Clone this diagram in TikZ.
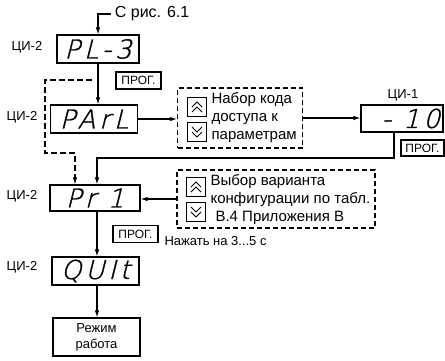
\documentclass[tikz,border=0pt]{standalone}
\usepackage{fontspec}
\setmainfont{Liberation Sans}
\newfontfamily\segfont{DejaVu Sans}[UprightFont=* ExtraLight, FakeSlant=0.25, FakeBold=1.2, LetterSpace=15]
\usetikzlibrary{calc, arrows.meta}

\begin{document}
\begin{tikzpicture}[x=1pt, y=-1pt, line width=1.1pt,
  arr/.style={-{Latex[length=7pt,width=4.5pt]}},
  disp/.style={draw, minimum width=87pt, minimum height=28pt, inner sep=0pt,
    font=\segfont\fontsize{26}{26}\selectfont},
  prog/.style={draw, minimum width=45pt, minimum height=17pt, inner sep=0pt,
    font=\fontsize{12}{12}\selectfont},
  lbl/.style={font=\fontsize{13}{13}\selectfont},
  note/.style={draw, dash pattern=on 5pt off 3pt, inner sep=0pt},
  keybox/.style={draw, line width=0.9pt, minimum size=19pt, inner sep=0pt},
  txt/.style={align=left, inner sep=0pt, font=\fontsize{15}{18}\selectfont}]
  \useasboundingbox (0,0) rectangle (445,360);
  % 左列 ЦИ-2
  \node[anchor=west, font=\fontsize{16}{16}\selectfont] (src) at (111,14) {С рис. 6.1};
  \node[disp, minimum width=82pt] (PL) at (98,49) {PL-3};
  \node[lbl] (ci1) at (27,47) {ЦИ-2};
  \node[prog] (prog1) at (138.5,80.5) {ПРОГ.};
  \node[disp] (PArL) at (94,119) {PArL};
  \node[lbl] (ci2) at (22,117) {ЦИ-2};
  % 代码输入框
  \node[note, minimum width=125pt, minimum height=60pt] (code) at (240,118) {};
  \node[keybox] (up1) at (197,107) {};
  \node[keybox] (dn1) at (197,132) {};
  \node[txt, anchor=west] (codetxt) at (211,118) {Набор кода\\доступа к\\параметрам};
  % ЦИ-1
  \node[lbl] (ci5) at (403,95) {ЦИ-1};
  \node[disp, minimum width=82pt, minimum height=27pt, text width=76pt, align=right] (pass) at (402,118.5) {-\hspace{12pt}10};
  \node[prog, minimum width=43pt, minimum height=16pt] (prog3) at (422.5,148) {ПРОГ.};
  \node[disp, minimum width=90pt, minimum height=26pt] (Pr) at (95,198) {Pr 1};
  \node[lbl] (ci3) at (22,196) {ЦИ-2};
  % 配置选择框
  \node[note, minimum width=198pt, minimum height=58pt] (conf) at (276,199) {};
  \node[keybox] (up2) at (196,187) {};
  \node[keybox] (dn2) at (196,212) {};
  \node[txt, anchor=west] (conftxt) at (210,200) {Выбор варианта\\конфигурации по табл.\\\hspace{5pt}В.4 Приложения В};
  \node[prog] (prog2) at (135.5,234) {ПРОГ.};
  \node[anchor=west, inner sep=0pt, font=\fontsize{13}{13}\selectfont] (hold) at (164,241) {Нажать на 3...5 с};
  \node[disp] (QUIt) at (95.5,271) {QUIt};
  \node[lbl] (ci4) at (22,267) {ЦИ-2};
  \node[draw, minimum width=87pt, minimum height=38pt, align=center,
    font=\fontsize{13}{16}\selectfont] (mode) at (96.5,337) {Режим\\работа};
  % 箭头
  \coordinate (bend) at (97,158);
  \coordinate (skip) at (92,80);
  \coordinate (skipdown) at (75,153);
  \draw[arr] (src.west) -| (PL.north);
  \draw[arr] (PL.south) -- (PL.south |- PArL.north);
  \draw[arr] (PArL.east) -- (PArL.east -| code.west);
  \draw[arr] (code.east) -- (code.east -| pass.west);
  \draw[arr] ([xshift=-8pt]pass.south) |- (bend) -- (bend |- Pr.north);
  \draw[arr] (conf.west) -- (conf.west -| Pr.east);
  \draw[arr] (bend |- Pr.south) -- (bend |- QUIt.north);
  \draw[arr] (bend |- QUIt.south) -- (bend |- mode.north);
  \draw[arr, dash pattern=on 6pt off 3pt] (skip) -- (45,80) -- (45,153) -- (skipdown) -- (skipdown |- Pr.north);
  % 按键符号
  \foreach \k in {up1, up2} {
    \draw[line width=0.8pt] ($(\k)+(-5,0)$) -- ($(\k)+(0,-5)$) -- ($(\k)+(5,0)$);
    \draw[line width=0.8pt] ($(\k)+(-5,5)$) -- ($(\k)+(0,0)$) -- ($(\k)+(5,5)$);
  }
  \foreach \k in {dn1, dn2} {
    \draw[line width=0.8pt] ($(\k)+(-5,-5)$) -- ($(\k)+(0,0)$) -- ($(\k)+(5,-5)$);
    \draw[line width=0.8pt] ($(\k)+(-5,0)$) -- ($(\k)+(0,5)$) -- ($(\k)+(5,0)$);
  }
\end{tikzpicture}
\end{document}
